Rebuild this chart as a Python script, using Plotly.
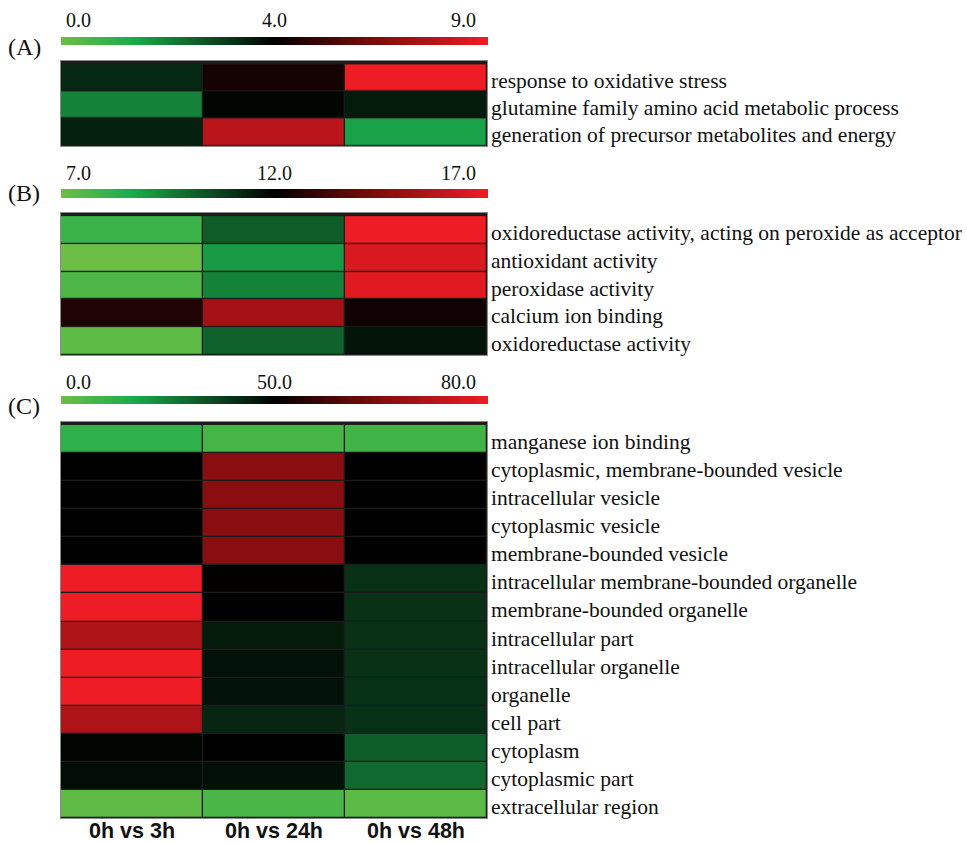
import numpy as np
import plotly.graph_objects as go

# ---------------- data ----------------
comparisons = ["0h vs 3h", "0h vs 24h", "0h vs 48h"]

terms_a = [
    "response to oxidative stress",
    "glutamine family amino acid metabolic process",
    "generation of precursor metabolites and energy",
]
values_a = [
    [3.4, 4.4, 9.0],
    [2.0, 3.9, 3.6],
    [3.5, 7.8, 1.5],
]
scale_a = [0.0, 4.0, 9.0]
ticks_a = ["0.0", "4.0", "9.0"]

terms_b = [
    "oxidoreductase activity, acting on peroxide as acceptor",
    "antioxidant activity",
    "peroxidase activity",
    "calcium ion binding",
    "oxidoreductase activity",
]
values_b = [
    [8.0, 10.2, 17.0],
    [7.0, 9.0, 16.5],
    [7.6, 9.5, 16.7],
    [12.6, 15.3, 12.3],
    [7.3, 10.1, 11.6],
]
scale_b = [7.0, 12.0, 17.0]
ticks_b = ["7.0", "12.0", "17.0"]

terms_c = [
    "manganese ion binding",
    "cytoplasmic, membrane-bounded vesicle",
    "intracellular vesicle",
    "cytoplasmic vesicle",
    "membrane-bounded vesicle",
    "intracellular membrane-bounded organelle",
    "membrane-bounded organelle",
    "intracellular part",
    "intracellular organelle",
    "organelle",
    "cell part",
    "cytoplasm",
    "cytoplasmic part",
    "extracellular region",
]
values_c = [
    [12.9, 8.1, 9.0],
    [50.0, 66.3, 50.0],
    [50.0, 66.3, 50.0],
    [50.0, 66.3, 50.0],
    [50.0, 66.3, 50.0],
    [80.0, 50.3, 40.7],
    [80.0, 50.0, 40.7],
    [71.0, 45.0, 40.7],
    [80.0, 46.5, 40.7],
    [80.0, 46.5, 40.5],
    [71.0, 42.7, 40.5],
    [49.0, 50.0, 31.8],
    [47.5, 47.0, 29.5],
    [2.5, 7.0, 3.5],
]
scale_c = [0.0, 50.0, 80.0]
ticks_c = ["0.0", "50.0", "80.0"]

# ---------------- styling ----------------
W, H = 967, 844
SERIF = "Liberation Serif, Times New Roman, serif"
SANS = "Liberation Sans, Arial, sans-serif"

# green -> black -> red; black sits in the middle of the bar
base_stops = [
    (0.0, "#6cbe45"),
    (0.17, "#1aab4b"),
    (0.5, "#000000"),
    (0.7, "#6b0a0a"),
    (1.0, "#ee1c24"),
]


def panel_scale(lo, mid, hi):
    """Stretch the base scale so that black lands on the middle value."""
    m = (mid - lo) / (hi - lo)
    out = []
    for t, c in base_stops:
        p = t * 2 * m if t <= 0.5 else m + (t - 0.5) * 2 * (1 - m)
        out.append([p, c])
    return out


def px_x(v):
    return v / W


def px_y(v):
    return 1 - v / H


X0, X1 = 61, 487
panels = [
    # terms, values, scale, ticks, heat top/bottom, bar top/bottom, tick y, letter, letter y
    (terms_a, values_a, scale_a, ticks_a, 61, 146, 37, 45, 20, "(A)", 47),
    (terms_b, values_b, scale_b, ticks_b, 213, 355, 189, 198, 173, "(B)", 193),
    (terms_c, values_c, scale_c, ticks_c, 422, 818, 396, 404, 382, "(C)", 406),
]

fig = go.Figure()
layout = {}
annotations = []

for i, (terms, vals, sc, tk, ht, hb, bt, bb, ty, letter, ly) in enumerate(panels):
    lo, mid, hi = sc
    hx = f"x{2 * i + 1}" if i else "x"
    hy = f"y{2 * i + 1}" if i else "y"
    bx = f"x{2 * i + 2}"
    by = f"y{2 * i + 2}"

    fig.add_trace(go.Heatmap(
        z=vals, x=comparisons, y=terms,
        zmin=lo, zmax=hi, colorscale=panel_scale(lo, mid, hi),
        showscale=False, xgap=1.3, ygap=1.3,
        xaxis=hx, yaxis=hy, hoverongaps=False,
    ))

    # colour bar drawn as a thin gradient strip
    grad = np.linspace(0, 1, 301)
    fig.add_trace(go.Heatmap(
        z=[grad], x=grad, y=[0],
        zmin=0, zmax=1, colorscale=[[t, c] for t, c in base_stops],
        showscale=False, xaxis=bx, yaxis=by, hoverinfo="skip",
    ))

    hxk = "xaxis" + (str(2 * i + 1) if i else "")
    hyk = "yaxis" + (str(2 * i + 1) if i else "")
    layout[hxk] = dict(
        domain=[px_x(X0), px_x(X1)], anchor=hy,
        showticklabels=False, ticks="", showgrid=False, zeroline=False,
        showline=True, mirror=True, linecolor="#8a8a8a", linewidth=1,
    )
    layout[hyk] = dict(
        domain=[px_y(hb), px_y(ht)], anchor=hx,
        autorange="reversed", showticklabels=False, ticks="",
        showgrid=False, zeroline=False,
        showline=True, mirror=True, linecolor="#8a8a8a", linewidth=1,
    )
    layout["xaxis" + str(2 * i + 2)] = dict(
        domain=[px_x(X0), px_x(X1 + 1)], anchor=by, range=[0, 1],
        visible=False,
    )
    layout["yaxis" + str(2 * i + 2)] = dict(
        domain=[px_y(bb), px_y(bt)], anchor=bx, visible=False,
    )

    # GO term names to the right of each row
    for term in terms:
        annotations.append(dict(
            text=term, x=px_x(X1 + 2), y=term, xref="paper", yref=hy,
            xanchor="left", yanchor="middle", yshift=-3, showarrow=False,
            font=dict(family=SERIF, size=21.5, color="#111"),
        ))

    # comparison names under the last panel
    if i == len(panels) - 1:
        for comp in comparisons:
            annotations.append(dict(
                text=f"<b>{comp}</b>", x=comp, y=px_y(831), xref=hx, yref="paper",
                xanchor="center", yanchor="middle", showarrow=False,
                font=dict(family=SANS, size=21.5, color="#111"),
            ))

    for txt, xp, anc in zip(tk, [X0 + 3, (X0 + X1) / 2, X1 - 9], ["left", "center", "right"]):
        annotations.append(dict(
            text=txt, x=px_x(xp), y=px_y(ty), xref="paper", yref="paper",
            xanchor=anc, yanchor="middle", showarrow=False,
            font=dict(family=SERIF, size=20, color="#111"),
        ))
    annotations.append(dict(
        text=letter, x=px_x(6), y=px_y(ly), xref="paper", yref="paper",
        xanchor="left", yanchor="middle", showarrow=False,
        font=dict(family=SERIF, size=24, color="#111"),
    ))

fig.update_layout(
    width=W, height=H,
    margin=dict(l=0, r=0, t=0, b=0),
    paper_bgcolor="white", plot_bgcolor="#1c1c1c",
    showlegend=False, annotations=annotations,
    **layout,
)

fig.write_html("out.html", config={"displayModeBar": False})
